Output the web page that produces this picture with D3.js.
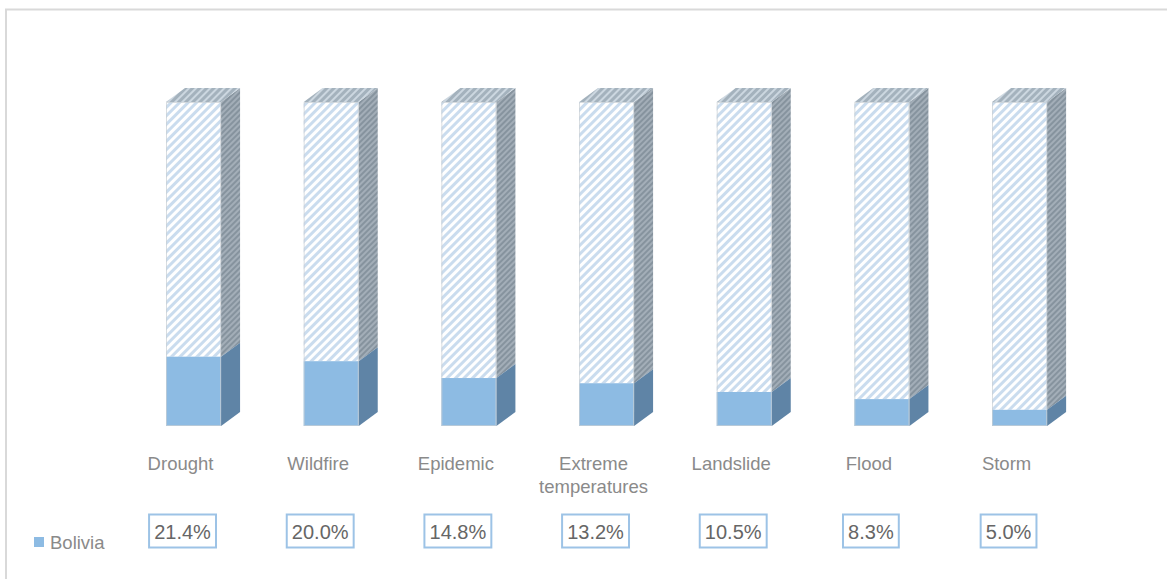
<!DOCTYPE html>
<html><head><meta charset="utf-8">
<script src="https://cdn.jsdelivr.net/npm/d3@7"></script>
<style>body{margin:0;background:#fff;}svg{display:block;}</style>
</head><body>
<svg id="c" width="1167" height="579"></svg>
<script>
const categories = ["Drought","Wildfire","Epidemic","Extreme temperatures","Landslide","Flood","Storm"];
const values = [0.214,0.200,0.148,0.132,0.105,0.083,0.050];
const valueLabels = ["21.4%","20.0%","14.8%","13.2%","10.5%","8.3%","5.0%"];
const seriesName = "Bolivia";

const W = 1167, H = 579;
const svg = d3.select("#c");
const defs = svg.append("defs");

function stripePattern(id, bg, fg, size, sw){
  const p = defs.append("pattern").attr("id", id).attr("patternUnits","userSpaceOnUse")
    .attr("width", size).attr("height", size).attr("patternTransform","rotate(45)");
  p.append("rect").attr("width", size).attr("height", size).attr("fill", bg);
  p.append("rect").attr("x",0).attr("y",0).attr("width", sw).attr("height", size).attr("fill", fg);
}
stripePattern("pFront", "#ffffff", "#cadcee", 6, 3);
stripePattern("pTop", "#a4b2bd", "#ccd7e0", 5, 2);
stripePattern("pSide", "#86939e", "#a3aeb8", 4, 2);

// frame
svg.append("rect").attr("x",6).attr("y",9.5).attr("width",1300).attr("height",700)
  .attr("fill","none").attr("stroke","#d9d9d9").attr("stroke-width",2);

const x = d3.scaleBand().domain(categories).range([83.4, 1129.7]).paddingInner(0.6).paddingOuter(0.6);
const y = d3.scaleLinear().domain([0,1]).range([426, 102]);
const dx = 19, dy = 14;
const bw = x.bandwidth();

const g = svg.append("g");
categories.forEach((c,i)=>{
  const x0 = x(c), x1 = x0 + bw;
  const yb = y(0), yv = y(values[i]), yt = y(1);
  const bar = g.append("g");
  bar.append("rect").attr("x",x0).attr("y",yt).attr("width",bw).attr("height",yv-yt).attr("fill","url(#pFront)");
  bar.append("path").attr("d",`M${x1},${yt}L${x1+dx},${yt-dy}L${x1+dx},${yv-dy}L${x1},${yv}Z`).attr("fill","url(#pSide)");
  bar.append("path").attr("d",`M${x0},${yt}L${x0+dx},${yt-dy}L${x1+dx},${yt-dy}L${x1},${yt}Z`).attr("fill","url(#pTop)");
  bar.append("rect").attr("x",x0).attr("y",yv).attr("width",bw).attr("height",yb-yv).attr("fill","#8dbbe3");
  bar.append("path").attr("d",`M${x1},${yv}L${x1+dx},${yv-dy}L${x1+dx},${yb-dy}L${x1},${yb}Z`).attr("fill","#5f84a6");
  bar.append("rect").attr("x",x0+0.5).attr("y",yt+0.5).attr("width",bw-1).attr("height",yb-yt-1)
    .attr("fill","none").attr("stroke","#c9ced3").attr("stroke-width",1).attr("opacity",0.7);
});

const font = "Liberation Sans, Arial, sans-serif";
const labelX = c => x(c) + bw/2 - 13;
categories.forEach(c=>{
  const words = c.split(" ");
  const t = svg.append("text").attr("x",labelX(c)).attr("y",470).attr("text-anchor","middle")
    .attr("font-family",font).attr("font-size",18.5).attr("fill","#8a8a8a");
  words.forEach((w,j)=>t.append("tspan").attr("x",labelX(c)).attr("dy", j===0?0:23).text(w));
});

categories.forEach((c,i)=>{
  const cx = labelX(c) + 2;
  const t = svg.append("text").attr("x",cx).attr("y",539).attr("text-anchor","middle")
    .attr("font-family",font).attr("font-size",20).attr("fill","#666666")
    .text(valueLabels[i]);
  const bb = t.node().getBBox();
  svg.insert("rect","text").attr("x",cx - bb.width/2 - 5).attr("y",514.5).attr("width",bb.width+10).attr("height",33)
    .attr("fill","#fff").attr("stroke","#9dc3e6").attr("stroke-width",2);
});

svg.append("rect").attr("x",34).attr("y",537).attr("width",10).attr("height",10).attr("fill","#8dbbe3");
svg.append("text").attr("x",50).attr("y",549).attr("font-family",font)
  .attr("font-size",18.5).attr("fill","#8a8a8a").text(seriesName);
</script>
</body></html>
